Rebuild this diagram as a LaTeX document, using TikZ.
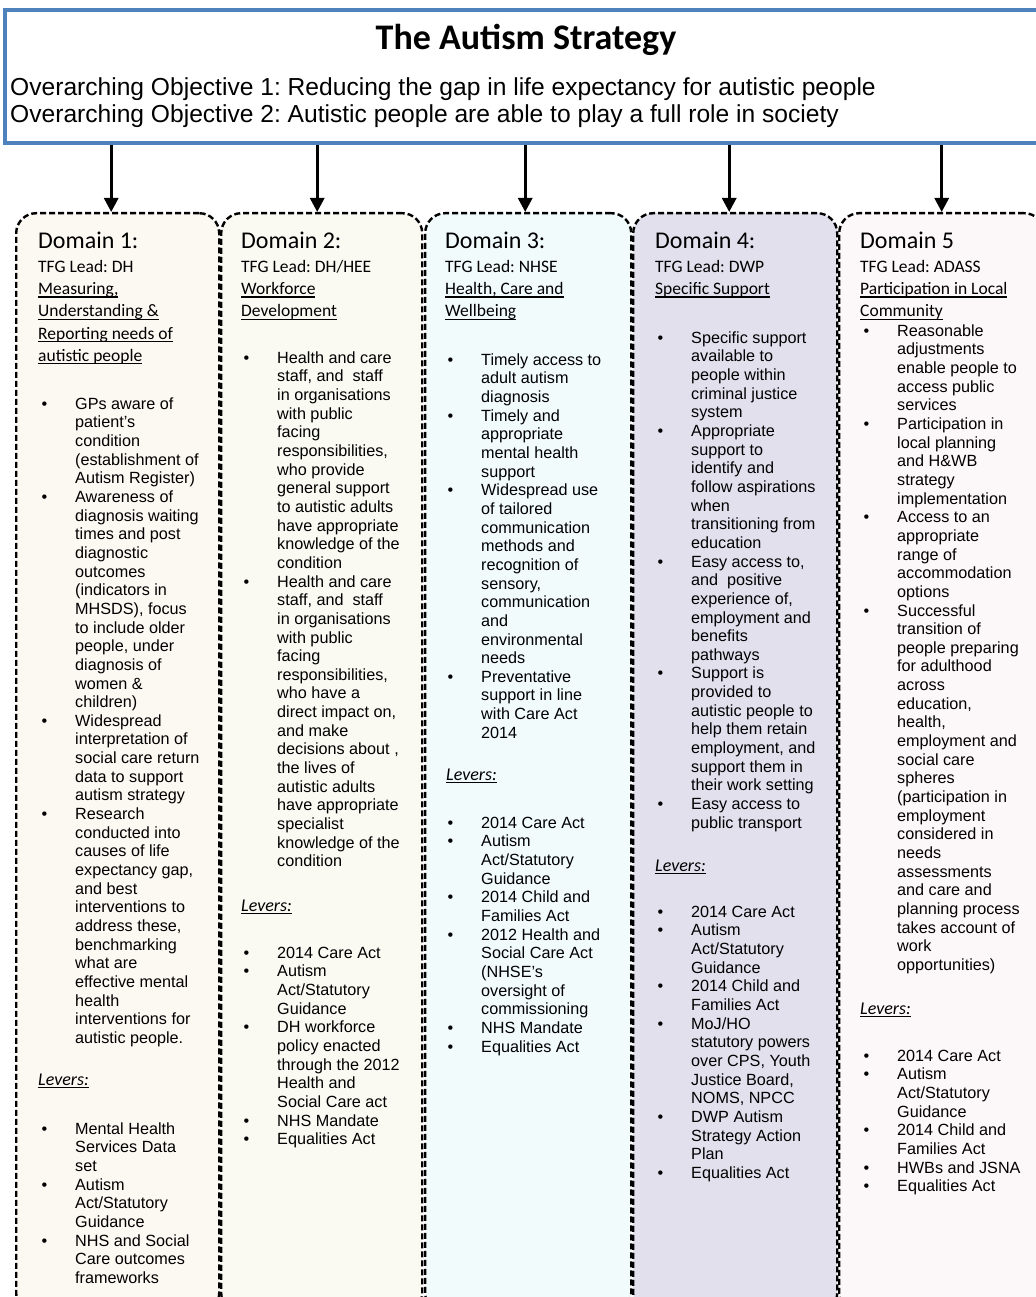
\documentclass[tikz,border=0pt]{standalone}
\usepackage{fontspec}
\setmainfont{Liberation Sans}
\newfontfamily\calfont{Carlito}
\newfontfamily\objfont{Liberation Sans}
\frenchspacing
\usetikzlibrary{arrows.meta,positioning}
\definecolor{stratblue}{RGB}{79,129,189}
\definecolor{domonefill}{RGB}{252,249,243}
\definecolor{domtwofill}{RGB}{250,250,243}
\definecolor{domthreefill}{RGB}{242,251,252}
\definecolor{domfourfill}{RGB}{227,224,238}
\definecolor{domfivefill}{RGB}{252,247,248}
\newcommand{\bl}{\llap{\textbullet\hspace{28pt}}}
\newcommand{\uln}[1]{\setbox0\hbox{#1}\rlap{\rule[-3pt]{\wd0}{1.1pt}}\box0}
\tikzset{
    topbox/.style={draw=stratblue,line width=4pt,fill=white,minimum width=1040pt,minimum height=133pt},
    colbox/.style={draw,line width=2.4pt,dash pattern=on 6pt off 3pt,rounded corners=20pt,
        minimum width=#1,minimum height=1100pt,anchor=north west,inner sep=0pt},
    arr/.style={-{Triangle[length=14pt,width=14pt]},line width=3pt},
    body/.style={font=\fontsize{16.2}{18.65}\selectfont,align=left,anchor=north west,inner sep=0pt},
    sub/.style={font=\calfont\fontsize{17.5}{22.3}\selectfont,align=left,anchor=north west,inner sep=0pt},
    domhead/.style={font=\calfont\fontsize{24}{28}\selectfont,anchor=base west,inner sep=0pt},
    levers/.style={font=\calfont\itshape\fontsize{18}{20}\selectfont,anchor=base west,inner sep=0pt},
    objective/.style={font=\objfont\fontsize{24.6}{28}\selectfont,anchor=base west,inner sep=0pt}
}

\begin{document}
\begin{tikzpicture}[x=1pt,y=-1pt]
    \useasboundingbox (0,0) rectangle (1035,1297);

    % strategy box
    \node[topbox] (strategy) at (525,76.5) {};
    \node[font=\calfont\bfseries\fontsize{36}{40}\selectfont] (title) at (526,40) {The Autism Strategy};
    \node[objective] (obj1) at (10,96)
        {Overarching Objective 1: Reducing the gap in life expectancy for autistic people};
    \node[objective] (obj2) at (10,123)
        {Overarching Objective 2: Autistic people are able to play a full role in society};

    % domain columns
    \node[colbox=203pt,fill=domonefill]   (dom1) at (15,212)  {};
    \node[colbox=201pt,fill=domtwofill]   (dom2) at (220,212) {};
    \node[colbox=206pt,fill=domthreefill] (dom3) at (424,212) {};
    \node[colbox=204pt,fill=domfourfill]  (dom4) at (632,212) {};
    \node[colbox=205pt,fill=domfivefill]  (dom5) at (838,212) {};

    \draw[arr] ([xshift=-6.5pt]strategy.south -| dom1.north) -- ([xshift=-6.5pt]dom1.north);
    \draw[arr] ([xshift=-4.5pt]strategy.south -| dom2.north) -- ([xshift=-4.5pt]dom2.north);
    \draw[arr] ([xshift=-3pt]strategy.south -| dom3.north) -- ([xshift=-3pt]dom3.north);
    \draw[arr] ([xshift=-6pt]strategy.south -| dom4.north) -- ([xshift=-6pt]dom4.north);
    \draw[arr] ([xshift=0pt]strategy.south -| dom5.north) -- ([xshift=0pt]dom5.north);

    % domain 1
    \node[domhead] (head1) at (38,248) {Domain 1:};
    \node[sub] (sub1) at (38,256.4) {\strut TFG Lead: DH\\\uln{Measuring,}\\\uln{Understanding \&}\\\uln{Reporting needs of}\\\uln{autistic people}};
    \node[body] (aims1) at (75,396) {\strut\bl GPs aware of\\patient’s\\condition\\(establishment of\\Autism Register)\\
        \bl Awareness of\\diagnosis waiting\\times and post\\diagnostic\\outcomes\\(indicators in\\MHSDS), focus\\to include older\\people, under\\diagnosis of\\women \&\\children)\\
        \bl Widespread\\interpretation of\\social care return\\data to support\\autism strategy\\
        \bl Research\\conducted into\\causes of life\\expectancy gap,\\and best\\interventions to\\address these,\\benchmarking\\what are\\effective mental\\health\\interventions for\\autistic people.};
    \node[levers] (lev1) at (38,1085) {\uln{Levers:}};
    \node[body] (levlist1) at (75,1121) {\strut\bl Mental Health\\Services Data\\set\\\bl Autism\\Act/Statutory\\Guidance\\\bl NHS and Social\\Care outcomes\\frameworks};

    % domain 2
    \node[domhead] (head2) at (241,248) {Domain 2:};
    \node[sub] (sub2) at (241,256.4) {\strut TFG Lead: DH/HEE\\\uln{Workforce}\\\uln{Development}};
    \node[body] (aims2) at (277,350) {\strut\bl Health and care\\staff, and\ \ staff\\in organisations\\with public\\facing\\responsibilities,\\who provide\\general support\\to autistic adults\\have appropriate\\knowledge of the\\condition\\
        \bl Health and care\\staff, and\ \ staff\\in organisations\\with public\\facing\\responsibilities,\\who have a\\direct impact on,\\and make\\decisions about ,\\the lives of\\autistic adults\\have appropriate\\specialist\\knowledge of the\\condition};
    \node[levers] (lev2) at (241,911) {\uln{Levers:}};
    \node[body] (levlist2) at (277,945) {\strut\bl 2014 Care Act\\\bl Autism\\Act/Statutory\\Guidance\\\bl DH workforce\\policy enacted\\through the 2012\\Health and\\Social Care act\\\bl NHS Mandate\\\bl Equalities Act};

    % domain 3
    \node[domhead] (head3) at (445,248) {Domain 3:};
    \node[sub] (sub3) at (445,256.4) {\strut TFG Lead: NHSE\\\uln{Health, Care and}\\\uln{Wellbeing}};
    \node[body] (aims3) at (481,352) {\strut\bl Timely access to\\adult autism\\diagnosis\\\bl Timely and\\appropriate\\mental health\\support\\
        \bl Widespread use\\of tailored\\communication\\methods and\\recognition of\\sensory,\\communication\\and\\environmental\\needs\\
        \bl Preventative\\support in line\\with Care Act\\2014};
    \node[levers] (lev3) at (446,780) {\uln{Levers:}};
    \node[body] (levlist3) at (481,815) {\strut\bl 2014 Care Act\\\bl Autism\\Act/Statutory\\Guidance\\\bl 2014 Child and\\Families Act\\\bl 2012 Health and\\Social Care Act\\(NHSE’s\\oversight of\\commissioning\\\bl NHS Mandate\\\bl Equalities Act};

    % domain 4
    \node[domhead] (head4) at (655,248) {Domain 4:};
    \node[sub] (sub4) at (655,256.4) {\strut TFG Lead: DWP\\\uln{Specific Support}};
    \node[body] (aims4) at (691,330) {\strut\bl Specific support\\available to\\people within\\criminal justice\\system\\
        \bl Appropriate\\support to\\identify and\\follow aspirations\\when\\transitioning from\\education\\
        \bl Easy access to,\\and\ \ positive\\experience of,\\employment and\\benefits\\pathways\\
        \bl Support is\\provided to\\autistic people to\\help them retain\\employment, and\\support them in\\their work setting\\
        \bl Easy access to\\public transport};
    \node[levers] (lev4) at (655,871) {\uln{Levers:}};
    \node[body] (levlist4) at (691,904) {\strut\bl 2014 Care Act\\\bl Autism\\Act/Statutory\\Guidance\\\bl 2014 Child and\\Families Act\\\bl MoJ/HO\\statutory powers\\over CPS, Youth\\Justice Board,\\NOMS, NPCC\\\bl DWP Autism\\Strategy Action\\Plan\\\bl Equalities Act};

    % domain 5
    \node[domhead] (head5) at (860,248) {Domain 5};
    \node[sub] (sub5) at (860,256.4) {\strut TFG Lead: ADASS\\\uln{Participation in Local}\\\uln{Community}};
    \node[body] (aims5) at (897,323) {\strut\bl Reasonable\\adjustments\\enable people to\\access public\\services\\
        \bl Participation in\\local planning\\and H\&WB\\strategy\\implementation\\
        \bl Access to an\\appropriate\\range of\\accommodation\\options\\
        \bl Successful\\transition of\\people preparing\\for adulthood\\across\\education,\\health,\\employment and\\social care\\spheres\\(participation in\\employment\\considered in\\needs\\assessments\\and care and\\planning process\\takes account of\\work\\opportunities)};
    \node[levers] (lev5) at (860,1014) {\uln{Levers:}};
    \node[body] (levlist5) at (897,1048) {\strut\bl 2014 Care Act\\\bl Autism\\Act/Statutory\\Guidance\\\bl 2014 Child and\\Families Act\\\bl HWBs and JSNA\\\bl Equalities Act};

\end{tikzpicture}
\end{document}
